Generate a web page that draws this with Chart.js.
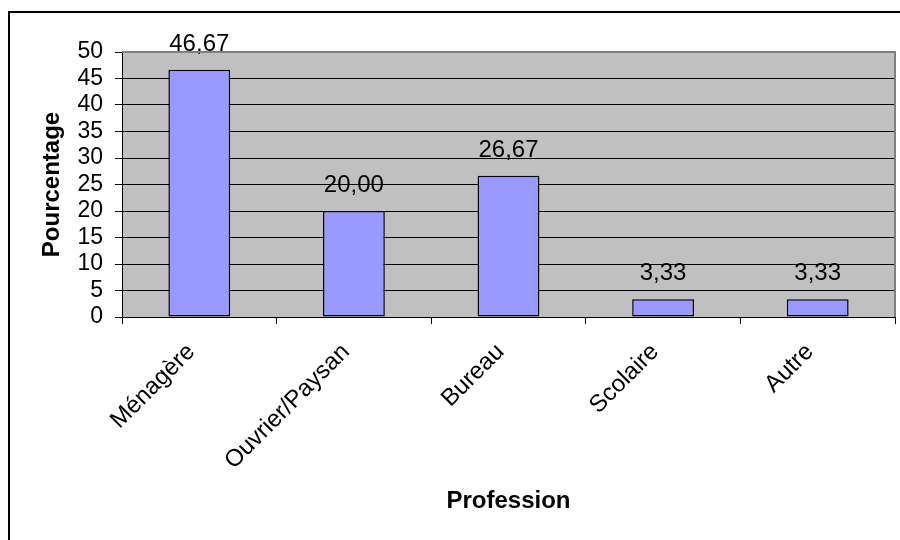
<!DOCTYPE html>
<html>
<head>
<meta charset="utf-8">
<script src="https://cdn.jsdelivr.net/npm/chart.js@4/dist/chart.umd.min.js"></script>
<style>
  html, body { margin: 0; padding: 0; background: #fff; }
  #wrap { width: 900px; height: 540px; }
</style>
</head>
<body>
<div id="wrap"><canvas id="c" width="900" height="540"></canvas></div>
<script>
// Répartition par profession (%)
const categories = ['Ménagère', 'Ouvrier/Paysan', 'Bureau', 'Scolaire', 'Autre'];
const pourcentages = [46.67, 20.00, 26.67, 3.33, 3.33];
const yTicks = [0, 5, 10, 15, 20, 25, 30, 35, 40, 45, 50];

const FONT = '"Liberation Sans", Arial, sans-serif';

// Gray plot background, gray frame on top/right, black outer frame
const framePlugin = {
  id: 'frame',
  beforeDraw(chart) {
    const { ctx, chartArea: a } = chart;
    ctx.save();
    ctx.fillStyle = '#fff';
    ctx.fillRect(0, 0, chart.width, chart.height);
    ctx.fillStyle = '#C0C0C0';
    ctx.fillRect(a.left, a.top, a.right - a.left, a.bottom - a.top);
    ctx.restore();
  },
  afterDraw(chart) {
    const { ctx, chartArea: a } = chart;
    ctx.save();
    ctx.strokeStyle = '#808080';
    ctx.lineWidth = 2;
    ctx.beginPath();
    ctx.moveTo(a.left, a.top);
    ctx.lineTo(a.right, a.top);
    ctx.lineTo(a.right, a.bottom);
    ctx.stroke();
    ctx.strokeStyle = '#000';
    ctx.lineWidth = 2;
    ctx.strokeRect(9, 12, chart.width + 20, chart.height + 20);
    ctx.restore();
  }
};

// Value labels above each bar, French decimal comma
const valueLabels = {
  id: 'valueLabels',
  afterDatasetsDraw(chart) {
    const { ctx } = chart;
    const meta = chart.getDatasetMeta(0);
    ctx.save();
    ctx.font = '24px ' + FONT;
    ctx.fillStyle = '#000';
    ctx.textAlign = 'center';
    ctx.textBaseline = 'alphabetic';
    meta.data.forEach((bar, i) => {
      const txt = pourcentages[i].toFixed(2).replace('.', ',');
      ctx.fillText(txt, bar.x, bar.y - 19);
    });
    ctx.restore();
  }
};

new Chart(document.getElementById('c'), {
  type: 'bar',
  data: {
    labels: categories,
    datasets: [{
      data: pourcentages,
      backgroundColor: '#9999FF',
      borderColor: '#000',
      borderWidth: 1.5,
      borderSkipped: false,
      categoryPercentage: 1,
      barPercentage: 0.4
    }]
  },
  options: {
    responsive: false,
    animation: false,
    devicePixelRatio: 1,
    layout: { padding: { top: 52, right: 5, left: 0, bottom: 0 } },
    plugins: {
      legend: { display: false },
      tooltip: { enabled: false }
    },
    scales: {
      x: {
        offset: true,
        grid: {
          offset: true,
          drawOnChartArea: false,
          drawTicks: true,
          tickLength: 7,
          tickColor: '#000'
        },
        border: { color: '#000', width: 1 },
        ticks: {
          autoSkip: false,
          minRotation: 45,
          maxRotation: 45,
          padding: 14,
          labelOffset: -8,
          color: '#000',
          font: { family: FONT, size: 24 }
        },
        title: {
          display: true,
          text: 'Profession',
          color: '#000',
          font: { family: FONT, size: 24, weight: 'bold' },
          padding: { top: 0, bottom: 24 }
        },
        afterFit(scale) { scale.height = 223; }
      },
      y: {
        min: 0,
        max: 50,
        afterBuildTicks(scale) { scale.ticks = yTicks.map(v => ({ value: v })); },
        grid: {
          color: ctx => (ctx.tick && ctx.tick.value === 50) ? '#808080' : '#000',
          lineWidth: 1,
          drawTicks: true,
          tickLength: 7,
          tickColor: '#000'
        },
        border: { color: '#000', width: 1 },
        ticks: {
          autoSkip: false,
          stepSize: 5,
          padding: 12,
          color: '#000',
          font: { family: FONT, size: 23 }
        },
        title: {
          display: true,
          text: 'Pourcentage',
          color: '#000',
          font: { family: FONT, size: 24, weight: 'bold' },
          padding: { top: 38, bottom: 0 }
        },
        afterFit(scale) { scale.width = 122; }
      }
    }
  },
  plugins: [framePlugin, valueLabels]
});
</script>
</body>
</html>
